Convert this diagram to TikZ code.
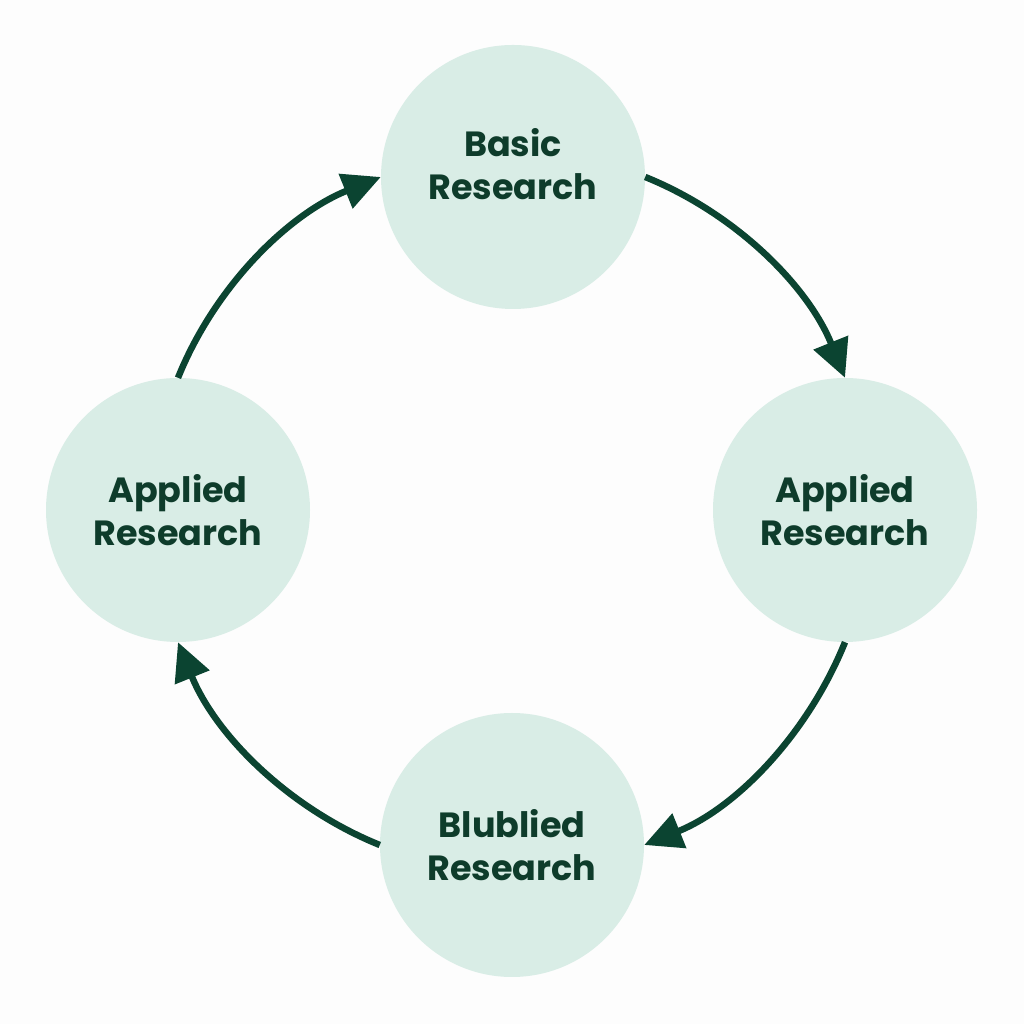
\documentclass[tikz,border=0pt]{standalone}
\usepackage{fontspec}
\setmainfont{Poppins}[BoldFont={* Bold}]
\usetikzlibrary{arrows.meta}
\definecolor{mint}{RGB}{217,237,230}
\definecolor{ink}{RGB}{14,60,43}
\definecolor{arrowc}{RGB}{11,68,49}
\definecolor{bgc}{RGB}{253,253,253}
\tikzset{
  stage/.style={circle, fill=mint, minimum size=264pt, inner sep=0pt, align=center,
    text=ink, font=\fontsize{35}{43}\selectfont\bfseries},
  flow/.style={draw=arrowc, line width=6.5pt, looseness=0.89,
    -{Triangle[length=38pt,width=36pt]}}
}
\begin{document}
\begin{tikzpicture}[x=1pt,y=1pt]
\fill[bgc] (0,0) rectangle (1024,1024);
\useasboundingbox (0,0) rectangle (1024,1024);
\node[stage, text depth=26pt] (t) at (513,847) {Basic\\Research};
\node[stage] (r) at (845,514) {Applied\\Research};
\node[stage] (b) at (512,179) {Blublied\\Research};
\node[stage] (l) at (178,514) {Applied\\Research};
\draw[flow] (t.east) to[out=-22,in=112] (r.north);
\draw[flow] (r.south) to[out=-112,in=22] (b.east);
\draw[flow] (b.west) to[out=158,in=-68] (l.south);
\draw[flow] (l.north) to[out=68,in=-158] (t.west);
\end{tikzpicture}
\end{document}
